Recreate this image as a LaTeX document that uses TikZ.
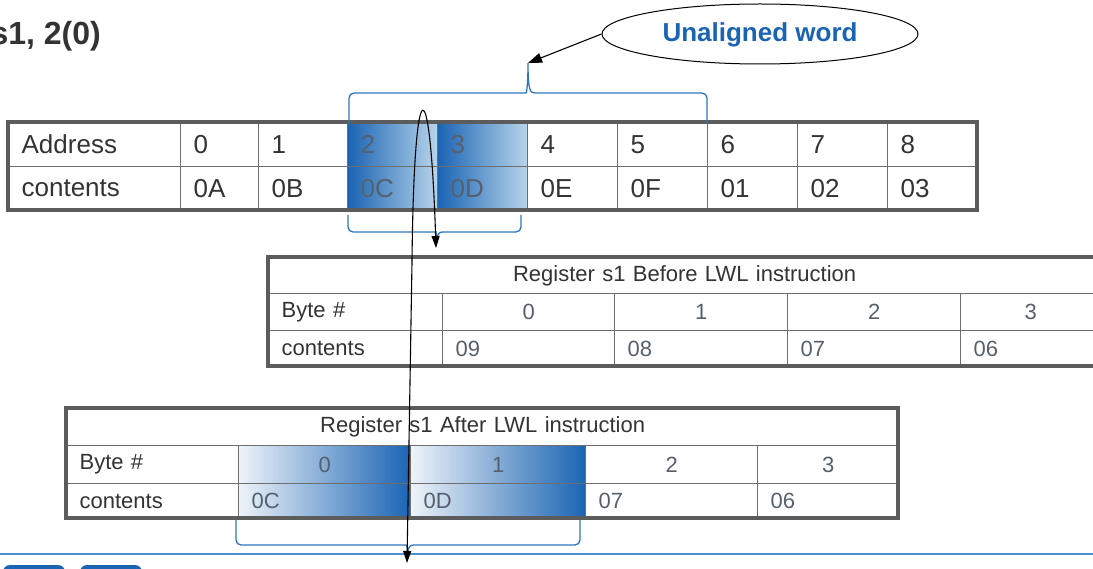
\documentclass[tikz,border=0pt]{standalone}
\usepackage{fontspec}
\setmainfont{Liberation Sans}
\usetikzlibrary{shapes.geometric,arrows.meta}
\definecolor{txt}{HTML}{333333}
\definecolor{grid}{HTML}{6E6E6E}
\definecolor{frame}{HTML}{5C5C5C}
\definecolor{dblue}{HTML}{1A64B4}
\definecolor{lblue}{HTML}{B8D4EA}
\definecolor{pale}{HTML}{EEF3F9}
\definecolor{brc}{HTML}{2C76BA}
\definecolor{sep}{HTML}{4A90CE}
\definecolor{shtxt}{HTML}{56606C}
\tikzset{
  cellbase/.style={draw=grid, line width=1.3pt, rectangle, inner xsep=13pt, inner ysep=0pt, anchor=north west, text=txt},
  memcell/.style={cellbase, align=left, font=\fontsize{26}{30}\selectfont},
  regcell/.style={cellbase, align=left, font=\fontsize{22}{26}\selectfont},
  regcellc/.style={cellbase, align=center, font=\fontsize{22}{26}\selectfont},
  shadeA/.style={left color=dblue, right color=lblue, text=shtxt},
  shadeB/.style={left color=pale, right color=dblue, text=shtxt},
  outerframe/.style={draw=frame, line width=4pt},
  bracestyle/.style={draw=brc, line width=1.3pt, rounded corners=5pt},
  blackarrow/.style={draw=black, line width=1.1pt},
}
\begin{document}
\begin{tikzpicture}[x=1pt,y=-1pt]
\useasboundingbox (0,0) rectangle (1093,569);
\clip (0,0) rectangle (1093,569);

% title
\node[anchor=east, text=txt, font=\bfseries\fontsize{32}{36}\selectfont, inner sep=0pt] (title) at (101,36) {s1, 2(0)};

% memory table
\foreach \i/\xa/\xb/\ta/\tb in {0/8/180/Address/contents,1/180/258/0/0A,2/258/347/1/0B,5/527/617/4/0E,6/617/707/5/0F,7/707/797/6/01,8/797/887/7/02,9/887/977/8/03}{
  \pgfmathsetmacro\w{\xb-\xa-26}
  \node[memcell, text width=\w pt, minimum height=44pt] (mA\i) at (\xa,122) {\ta};
  \node[memcell, text width=\w pt, minimum height=44pt] (mC\i) at (\xa,166) {\tb};
}
\foreach \i/\xa/\xb/\ta/\tb in {3/347/437/2/0C,4/437/527/3/0D}{
  \pgfmathsetmacro\w{\xb-\xa-26}
  \node[memcell, shadeA, text width=\w pt, minimum height=44pt] (mA\i) at (\xa,122) {\ta};
  \node[memcell, shadeA, text width=\w pt, minimum height=44pt] (mC\i) at (\xa,166) {\tb};
}
\draw[outerframe] (8,122) rectangle (977,210);

% register before
\node[regcellc, text width=806pt, minimum height=36pt] (bH) at (268,257) {Register s1 Before LWL instruction};
\node[regcell, text width=148pt, minimum height=37pt] (bL1) at (268,293) {Byte \#};
\node[regcell, text width=148pt, minimum height=36pt] (bL2) at (268,330) {contents};
\foreach \i/\xa/\xb/\ta/\tb in {0/442/614/0/09,1/614/787/1/08,2/787/960/2/07,3/960/1100/3/06}{
  \pgfmathsetmacro\w{\xb-\xa-26}
  \node[regcellc, text=shtxt, text width=\w pt, minimum height=37pt] (bA\i) at (\xa,293) {\ta};
  \node[regcell, text=shtxt, text width=\w pt, minimum height=36pt] (bC\i) at (\xa,330) {\tb};
}
\draw[outerframe] (268,257) rectangle (1100,366);

% register after
\node[regcellc, text width=806pt, minimum height=37pt] (aH) at (66,408) {Register s1 After LWL instruction};
\node[regcell, text width=146pt, minimum height=38pt] (aL1) at (66,445) {Byte \#};
\node[regcell, text width=146pt, minimum height=35pt] (aL2) at (66,483) {contents};
\foreach \i/\xa/\xb/\ta/\tb in {0/238/410/0/0C,1/410/585/1/0D}{
  \pgfmathsetmacro\w{\xb-\xa-26}
  \node[regcellc, shadeB, text width=\w pt, minimum height=38pt] (aA\i) at (\xa,445) {\ta};
  \node[regcell, shadeB, text width=\w pt, minimum height=35pt] (aC\i) at (\xa,483) {\tb};
}
\foreach \i/\xa/\xb/\ta/\tb in {2/585/757/2/07,3/757/898/3/06}{
  \pgfmathsetmacro\w{\xb-\xa-26}
  \node[regcellc, text=shtxt, text width=\w pt, minimum height=38pt] (aA\i) at (\xa,445) {\ta};
  \node[regcell, text=shtxt, text width=\w pt, minimum height=35pt] (aC\i) at (\xa,483) {\tb};
}
\draw[outerframe] (66,408) rectangle (898,518);

% braces
\coordinate (topcusp) at (528,63);
\draw[bracestyle] (349,124) -- (349,93) -- (521,93) [sharp corners] .. controls (526,93) and (528,90) .. (topcusp) .. controls (528,90) and (530,93) .. (535,93) [rounded corners=5pt] -- (707,93) -- (707,124);
\coordinate (midcusp) at (437,240);
\draw[bracestyle] (348,215) -- (348,232) -- (431,232) [sharp corners] .. controls (435,232) and (437,234) .. (midcusp) .. controls (437,234) and (439,232) .. (443,232) [rounded corners=5pt] -- (521,232) -- (521,215);
\coordinate (lowcusp) at (408,553);
\draw[bracestyle] (236,520) -- (236,545) -- (402,545) [sharp corners] .. controls (406,545) and (408,547) .. (lowcusp) .. controls (408,547) and (410,545) .. (414,545) [rounded corners=5pt] -- (580,545) -- (580,520);

% separator line and buttons
\draw[sep, line width=1.4pt] (0,554) -- (1093,554);
\fill[dblue, rounded corners=7pt] (3,565) rectangle (65,590);
\fill[dblue, rounded corners=7pt] (80,565) rectangle (142,590);

% ellipse callout
\node[draw=black, line width=1pt, ellipse, minimum width=316pt, minimum height=60pt, fill=white] (ell) at (760,34) {};
\node[text=dblue, font=\bfseries\fontsize{26}{30}\selectfont] (elltext) at (760,35) {Unaligned word};
\draw[blackarrow, -{Triangle[length=14pt,width=10pt]}] (ell.west) -- (topcusp);

% loop arrow
\coordinate (loopend) at (407,563);
\coordinate (loopmid) at (412,262);
\coordinate (looptip) at (436,248);
\draw[blackarrow, {Triangle[length=12pt,width=8pt]}-{Triangle[length=12pt,width=8pt]}] (loopend) -- (loopmid) .. controls (414,64) and (430,64) .. (looptip);
\end{tikzpicture}
\end{document}
